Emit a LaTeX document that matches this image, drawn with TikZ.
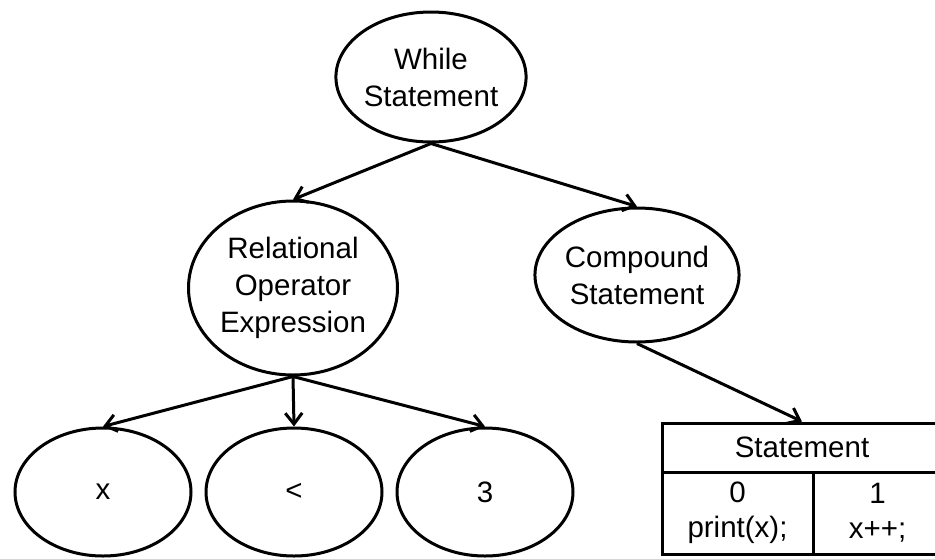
\documentclass[tikz,border=0pt]{standalone}
\usepackage{fontspec}
\setmainfont{Liberation Sans}
\usetikzlibrary{shapes.geometric,arrows.meta}
\begin{document}
\begin{tikzpicture}[x=1pt,y=-1pt,
  el/.style={draw, ellipse, line width=3pt, inner sep=0pt, align=center, font=\fontsize{29.5}{37}\selectfont},
  cell/.style={draw, rectangle, line width=3pt, inner sep=0pt, align=center, font=\fontsize{29.5}{35}\selectfont},
  arr/.style={line width=3pt, -{Straight Barb[length=11pt,width=17pt,line width=3pt]}}]
\clip (0,0) rectangle (935,558);
\fill[white] (0,0) rectangle (935,558);
\node[el, minimum width=172pt, minimum height=130pt] (wh) at (431,77) {While\\Statement};
\node[el, minimum width=209pt, minimum height=174pt] (rel) at (293,288) {Relational\\Operator\\Expression};
\node[el, minimum width=161pt, minimum height=134pt] (comp) at (637,275) {Compound\\Statement};
\node[el, minimum width=176pt, minimum height=128pt] (nx) at (103,492) {x};
\node[el, minimum width=176pt, minimum height=128pt] (nlt) at (294,492) {<};
\node[el, minimum width=176pt, minimum height=128pt] (n3) at (485,492) {3};
\node[cell, minimum width=280pt, minimum height=49pt] (hdr) at (802,447.5) {Statement};
\node[cell, minimum width=151pt, minimum height=82pt] (c0) at (737.5,513) {0\\print(x);};
\node[cell, minimum width=129pt, minimum height=82pt] (c1) at (877.5,513) {1\\x++;};
\draw[arr] (wh.south) -- (rel.north);
\draw[arr] (wh.south) -- (comp.north);
\draw[arr] (rel.south) -- (nx.north);
\draw[arr] (rel.south) -- (nlt.north);
\draw[arr] (rel.south) -- (n3.north);
\draw[arr] (comp.south) -- (hdr.north);
\end{tikzpicture}
\end{document}
